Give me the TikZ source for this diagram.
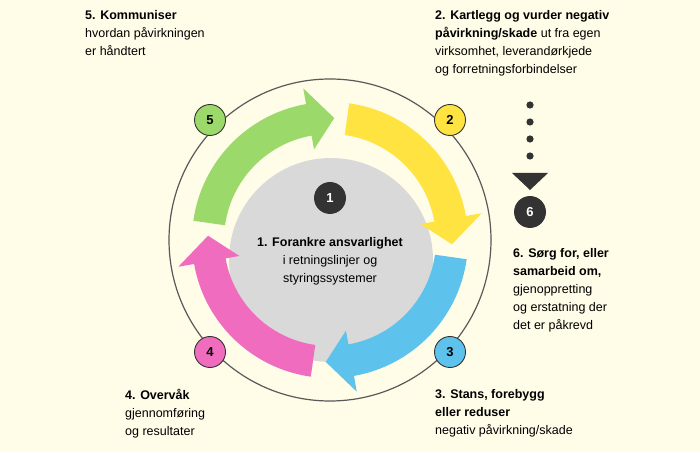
\documentclass[tikz,border=0pt]{standalone}
\usepackage{fontspec}
\setmainfont{Liberation Sans}
\definecolor{bg}{HTML}{FFFCE8}
\definecolor{cgreen}{HTML}{9CD96B}
\definecolor{cyellow}{HTML}{FEE341}
\definecolor{cblue}{HTML}{5DC3EC}
\definecolor{cpink}{HTML}{F06CBE}
\definecolor{cgray}{HTML}{D9D9D9}
\definecolor{cdark}{HTML}{333333}
\tikzset{
  num/.style={circle,draw=cdark,line width=0.9pt,minimum size=31pt,inner sep=0pt,font=\fontsize{13}{13}\selectfont\bfseries},
  txt/.style={font=\fontsize{12.5}{18}\selectfont,inner sep=0pt},
}
\newcommand{\cyclearrow}[3]{% tail angle, tip angle, colour
  \fill[#3] ($(C)+(#1:138)$) arc[start angle=#1,end angle=#2+12,radius=138]
    -- ($(C)+(#2+12:154)$) -- ($(C)+(#2:122)$) -- ($(C)+(#2+12:92)$)
    -- ($(C)+(#2+12:106)$) arc[start angle=#2+12,end angle=#1,radius=106] -- cycle;}
\usetikzlibrary{calc}
\begin{document}
\begin{tikzpicture}[x=1pt,y=1pt]
\fill[bg] (0,0) rectangle (700,452);
\useasboundingbox (0,0) rectangle (700,452);
\coordinate (C) at (330,212);
\draw[gray!70!black,line width=1.2pt] (C) circle[radius=161];
\fill[cgray] (331,192) circle[radius=102];
\cyclearrow{172}{88}{cgreen}
\cyclearrow{82}{-2}{cyellow}
\cyclearrow{-8}{-92}{cblue}
\cyclearrow{-98}{-182}{cpink}
\node[num,fill=cgreen] (n5) at (210,332) {5};
\node[num,fill=cyellow] (n2) at (450,332) {2};
\node[num,fill=cblue] (n3) at (450,100) {3};
\node[num,fill=cpink] (n4) at (210,100) {4};
\node[num,fill=cdark,text=white,draw=cdark] (n1) at (330,254) {1};
\node[num,fill=cdark,text=white,draw=cdark] (n6) at (530,240) {6};
\foreach \y/\nm in {347/d1,330/d2,313/d3,296/d4} \fill[cdark] (530,\y) circle[radius=3.6] coordinate (\nm);
\fill[cdark] (512,279) -- (548,279) -- (530,262) -- cycle;
\node[txt,align=center] (t1) at (330,191) {\textbf{1. Forankre ansvarlighet}\\i retningslinjer og\\styringssystemer};
\node[txt,align=left,anchor=north west] (t5) at (85,442) {\textbf{5. Kommuniser}\\hvordan påvirkningen\\er håndtert};
\node[txt,align=left,anchor=north west] (t2) at (435,442) {\textbf{2. Kartlegg og vurder negativ}\\\textbf{påvirkning/skade} ut fra egen\\virksomhet, leverandørkjede\\og forretningsforbindelser};
\node[txt,align=left,anchor=north west] (t6) at (513,204) {\textbf{6. Sørg for, eller}\\\textbf{samarbeid om,}\\gjenoppretting\\og erstatning der\\det er påkrevd};
\node[txt,align=left,anchor=north west] (t3) at (435,63) {\textbf{3. Stans, forebygg}\\\textbf{eller reduser}\\negativ påvirkning/skade};
\node[txt,align=left,anchor=north west] (t4) at (125,63) {\textbf{4. Overvåk}\\gjennomføring\\og resultater};
\end{tikzpicture}
\end{document}
